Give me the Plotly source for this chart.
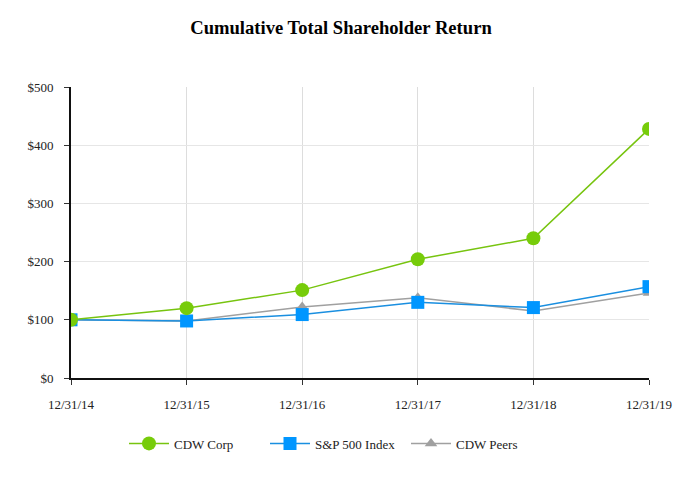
import plotly.graph_objects as go

dates = ["12/31/14", "12/31/15", "12/31/16", "12/31/17", "12/31/18", "12/31/19"]
cdw_corp = [100, 120, 151, 204, 240, 428]
sp500 = [100, 98, 109, 130, 121, 157]
cdw_peers = [100, 98, 122, 138, 115, 146]
y_ticks = [0, 100, 200, 300, 400, 500]
y_labels = ["$0", "$100", "$200", "$300", "$400", "$500"]

fig = go.Figure()
fig.add_trace(go.Scatter(x=dates, y=cdw_peers, name="CDW Peers", mode="lines+markers",
                         line=dict(color="#a0a0a0", width=1.5),
                         marker=dict(symbol="triangle-up", size=11, color="#a0a0a0")))
fig.add_trace(go.Scatter(x=dates, y=sp500, name="S&P 500 Index", mode="lines+markers",
                         line=dict(color="#1a8fe0", width=1.5),
                         marker=dict(symbol="square", size=13, color="#0096ff")))
fig.add_trace(go.Scatter(x=dates, y=cdw_corp, name="CDW Corp", mode="lines+markers",
                         line=dict(color="#77c40f", width=1.5),
                         marker=dict(symbol="circle", size=14, color="#77cc0a")))

fig.update_layout(
    width=666, height=464,
    margin=dict(l=63, r=25, t=79, b=94, autoexpand=False),
    paper_bgcolor="white", plot_bgcolor="white",
    font=dict(family="Liberation Serif", size=13, color="#222222"),
    title=dict(text="<b>Cumulative Total Shareholder Return</b>", x=(341 - 8) / 666, xanchor="center",
               y=1 - 19 / 464, yanchor="middle", font=dict(size=18.6, color="black")),
    legend=dict(orientation="h", x=53 / 578, xanchor="left", y=-0.225, yanchor="middle",
                traceorder="reversed", font=dict(size=13), itemwidth=40,
                entrywidth=86, entrywidthmode="pixels"),
    showlegend=True,
)
fig.update_xaxes(type="category", range=[0, 5], showgrid=True, gridcolor="#dddddd",
                 showline=True, linecolor="#111111", linewidth=2, automargin=False,
                 ticks="outside", ticklen=5, tickcolor="#333333",
                 ticklabelstandoff=8, zeroline=False)
fig.update_yaxes(range=[0, 500], tickvals=y_ticks, ticktext=y_labels, showgrid=True,
                 gridcolor="#e6e6e6", showline=True, linecolor="#111111", linewidth=2,
                 automargin=False,
                 ticks="outside", ticklen=5, tickcolor="#333333", ticklabelstandoff=8,
                 zeroline=False)

fig.write_html("out.html")
